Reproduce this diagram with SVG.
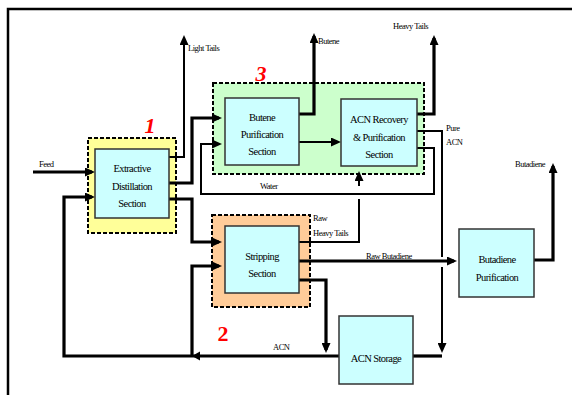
<svg xmlns="http://www.w3.org/2000/svg" width="572" height="395" viewBox="0 0 572 395">
<defs>
<marker id="ah" markerUnits="userSpaceOnUse" markerWidth="10" markerHeight="9" refX="7" refY="4.5" orient="auto"><path d="M0,0 L10,4.5 L0,9 z" fill="#000"/></marker>
<style>
.frame{fill:none;stroke:#000;stroke-width:2.5}
.grp{stroke:#000;stroke-width:2;stroke-dasharray:4 2}
.box{fill:#ccffff;stroke:#333;stroke-width:1.5}
.c{fill:none;stroke:#000;stroke-width:3.2;stroke-linejoin:miter}
.t{fill:none;stroke:#000;stroke-width:2}
.lbl{font-family:"Liberation Serif",serif;font-size:10.5px;letter-spacing:-0.6px;text-anchor:middle;fill:#000}
.sm{font-family:"Liberation Serif",serif;font-size:8.5px;letter-spacing:-0.5px;fill:#000}
.num{font-family:"Liberation Serif",serif;font-size:22px;font-weight:bold;fill:#ff0000;text-anchor:middle}
</style>
</defs>
<rect width="572" height="395" fill="#fff"/>
<path class="frame" d="M8,395 V9 H572"/>
<g id="group1"><rect class="grp" x="88" y="138" width="88" height="95" fill="#ffff99"/><text class="num" x="150" y="133" font-style="italic">1</text></g>
<g id="group3"><rect class="grp" x="213" y="83" width="211" height="91" fill="#ccffcc"/><text class="num" x="261" y="81" font-style="italic">3</text></g>
<g id="group2"><rect class="grp" x="212" y="215" width="98" height="92" fill="#ffcc99"/><text class="num" x="223" y="341">2</text></g>
<g id="connectors">
<path class="c" d="M33,172 H92" marker-end="url(#ah)"/>
<path class="c" d="M339,356 H64 V197 H92" marker-end="url(#ah)"/>
<path d="M192,356 L200,351.5 L200,360.5 z" fill="#000"/>
<path class="c" d="M192,356 V266 H219" marker-end="url(#ah)"/>
<path class="c" d="M169,199 H192 V242 H219" marker-end="url(#ah)"/>
<path class="c" d="M169,183 H192 V118 H219" marker-end="url(#ah)"/>
<path class="t" d="M169,157 H184 V38" marker-end="url(#ah)"/>
<path class="c" d="M299,114 H314 V36" marker-end="url(#ah)"/>
<path class="t" d="M299,142 H338" marker-end="url(#ah)"/>
<path class="c" d="M417,114 H434 V38" marker-end="url(#ah)"/>
<path class="t" d="M417,131 H442 V257 M442,267 V350" marker-end="url(#ah)"/>
<path class="t" d="M417,148 H434 V194 H201 V144 H219" marker-end="url(#ah)"/>
<path class="t" d="M299,242 H359 V199" />
<path class="t" d="M359,186 V174" marker-end="url(#ah)"/>
<path class="c" d="M299,261 H454" marker-end="url(#ah)"/>
<path class="c" d="M299,280 H326 V350" marker-end="url(#ah)"/>
<path class="c" d="M413,356 H442"/>
<path class="c" d="M534,260 H553 V166" marker-end="url(#ah)"/>
</g>
<g id="extractive"><rect class="box" x="95" y="149" width="74" height="69"/><text class="lbl" x="132" y="172">Extractive</text><text class="lbl" x="132" y="190">Distillation</text><text class="lbl" x="132" y="207">Section</text></g>
<g id="butene"><rect class="box" x="225" y="98" width="74" height="67"/><text class="lbl" x="262" y="121">Butene</text><text class="lbl" x="262" y="138">Purification</text><text class="lbl" x="262" y="155">Section</text></g>
<g id="acnrecovery"><rect class="box" x="341" y="99" width="76" height="67"/><text class="lbl" x="379" y="123">ACN Recovery</text><text class="lbl" x="379" y="141">&amp; Purification</text><text class="lbl" x="379" y="158">Section</text></g>
<g id="stripping"><rect class="box" x="225" y="226" width="74" height="67"/><text class="lbl" x="262" y="260">Stripping</text><text class="lbl" x="262" y="277">Section</text></g>
<g id="butadiene"><rect class="box" x="459" y="229" width="75" height="68"/><text class="lbl" x="497" y="263">Butadiene</text><text class="lbl" x="497" y="281">Purification</text></g>
<g id="acnstorage"><rect class="box" x="339" y="316" width="74" height="68"/><text class="lbl" x="376" y="362">ACN Storage</text></g>
<g id="labels">
<text class="sm" x="39" y="167">Feed</text>
<text class="sm" x="188" y="51">Light Tails</text>
<text class="sm" x="318" y="44">Butene</text>
<text class="sm" x="393" y="29">Heavy Tails</text>
<text class="sm" x="446" y="131">Pure</text>
<text class="sm" x="446" y="145">ACN</text>
<text class="sm" x="515" y="167">Butadiene</text>
<text class="sm" x="260" y="189">Water</text>
<text class="sm" x="313" y="221">Raw</text>
<text class="sm" x="313" y="236">Heavy Tails</text>
<text class="sm" x="366" y="259">Raw Butadiene</text>
<text class="sm" x="273" y="350">ACN</text>
</g>
</svg>
